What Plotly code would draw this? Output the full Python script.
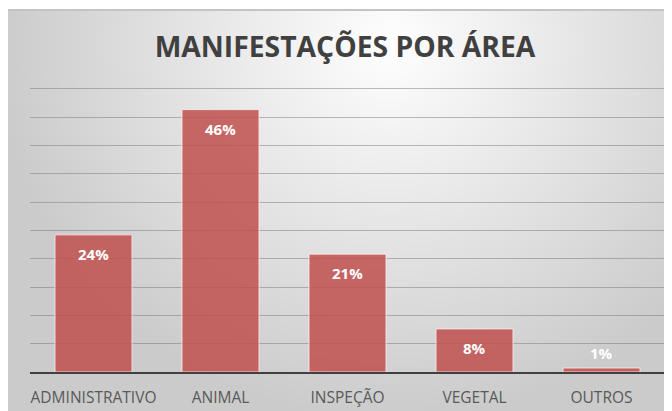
import base64
import struct
import zlib

import plotly.graph_objects as go

areas = ['ADMINISTRATIVO', 'ANIMAL', 'INSPEÇÃO', 'VEGETAL', 'OUTROS']
shares = [24.2, 46.3, 20.8, 7.6, 0.7]
share_labels = ['24%', '46%', '21%', '8%', '1%']


def gradient_png(w, h):
    # soft radial grey gradient, like the Excel chart background
    rows = b''
    for j in range(h):
        row = bytearray([0])
        for i in range(w):
            px = 8 + (i + 0.5) * 664 / w
            py = 10 + (j + 0.5) * 401 / h
            d = (((px - 390) / 400) ** 2 + ((py - 45) / 380) ** 2) ** 0.5
            row.append(int(255 - 52 * min(1.0, d)))
        rows += bytes(row)

    def chunk(tag, data):
        c = struct.pack('>I', len(data)) + tag + data
        return c + struct.pack('>I', zlib.crc32(tag + data) & 0xffffffff)

    png = b'\x89PNG\r\n\x1a\n'
    png += chunk(b'IHDR', struct.pack('>IIBBBBB', w, h, 8, 0, 0, 0, 0))
    png += chunk(b'IDAT', zlib.compress(rows))
    png += chunk(b'IEND', b'')
    return 'data:image/png;base64,' + base64.b64encode(png).decode()


fig = go.Figure(go.Bar(
    x=areas, y=shares,
    marker=dict(color='rgba(192,80,77,0.85)',
                line=dict(color='rgba(255,235,235,0.8)', width=1)),
    hoverinfo='skip'))

for area, val, lab in zip(areas, shares, share_labels):
    fig.add_annotation(x=area, y=val, text='<b>' + lab + '</b>', showarrow=False,
                       yanchor='middle', yshift=-19 if val > 3 else 15,
                       font=dict(family='Open Sans', size=15, color='white'))

# page body has an 8px margin; plot area is 635 x 289 px (y 0..51)
fig.add_layout_image(source=gradient_png(166, 100), xref='paper', yref='paper',
                     x=-22 / 635, y=362 / 289, sizex=664 / 635, sizey=401 / 289,
                     xanchor='left', yanchor='top', sizing='stretch', layer='below')
fig.add_shape(type='line', xref='paper', yref='paper',
              x0=-22 / 635, x1=1.02, y0=362 / 289, y1=362 / 289,
              line=dict(color='#c4c4c4', width=2))

fig.update_layout(
    width=664, height=403,
    margin=dict(l=22, r=7, t=75, b=39),
    paper_bgcolor='white', plot_bgcolor='rgba(0,0,0,0)',
    bargap=0.394, showlegend=False,
    title=dict(text='<b>MANIFESTAÇÕES POR ÁREA</b>', x=337 / 664, xanchor='center',
               y=1 - 39 / 403, yanchor='middle',
               font=dict(family='Open Sans', size=28.3, color='#404040')),
    font=dict(family='Open Sans', color='#595959'),
)
fig.update_xaxes(showline=True, linecolor='#404040', linewidth=2,
                 tickfont=dict(size=15.5, color='#595959'), ticklabelstandoff=10,
                 showgrid=False, automargin=False)
fig.update_yaxes(range=[0, 51], dtick=5, showticklabels=False,
                 gridcolor='rgba(110,110,110,0.45)', gridwidth=1, zeroline=False,
                 automargin=False)

fig.write_html('out.html')
